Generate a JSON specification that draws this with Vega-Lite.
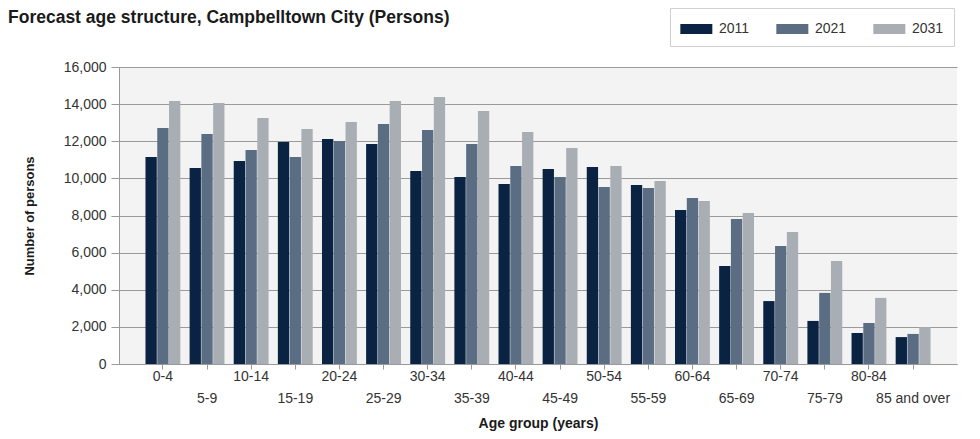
{
  "$schema": "https://vega.github.io/schema/vega-lite/v6.json",
  "width": 838,
  "height": 297,
  "autosize": {"type": "none"},
  "padding": {"left": 119, "top": 67, "right": 23, "bottom": 75},
  "background": "white",
  "title": {
    "text": "Forecast age structure, Campbelltown City (Persons)",
    "anchor": "start",
    "frame": "group",
    "dx": -111,
    "offset": 0,
    "dy": 19,
    "font": "Liberation Sans",
    "fontSize": 17.5,
    "fontWeight": "bold",
    "color": "#1a1a1a"
  },
  "config": {
    "view": {"fill": "#f3f3f3", "stroke": null},
    "font": "Liberation Sans"
  },
  "data": {
    "values": [
      {"age": "0-4", "year": "2011", "persons": 11150},
      {"age": "0-4", "year": "2021", "persons": 12710},
      {"age": "0-4", "year": "2031", "persons": 14170},
      {"age": "5-9", "year": "2011", "persons": 10560},
      {"age": "5-9", "year": "2021", "persons": 12390},
      {"age": "5-9", "year": "2031", "persons": 14060},
      {"age": "10-14", "year": "2011", "persons": 10940},
      {"age": "10-14", "year": "2021", "persons": 11530},
      {"age": "10-14", "year": "2031", "persons": 13250},
      {"age": "15-19", "year": "2011", "persons": 11960},
      {"age": "15-19", "year": "2021", "persons": 11150},
      {"age": "15-19", "year": "2031", "persons": 12660},
      {"age": "20-24", "year": "2011", "persons": 12120},
      {"age": "20-24", "year": "2021", "persons": 12010},
      {"age": "20-24", "year": "2031", "persons": 13040},
      {"age": "25-29", "year": "2011", "persons": 11850},
      {"age": "25-29", "year": "2021", "persons": 12930},
      {"age": "25-29", "year": "2031", "persons": 14170},
      {"age": "30-34", "year": "2011", "persons": 10400},
      {"age": "30-34", "year": "2021", "persons": 12610},
      {"age": "30-34", "year": "2031", "persons": 14380},
      {"age": "35-39", "year": "2011", "persons": 10070},
      {"age": "35-39", "year": "2021", "persons": 11850},
      {"age": "35-39", "year": "2031", "persons": 13630},
      {"age": "40-44", "year": "2011", "persons": 9700},
      {"age": "40-44", "year": "2021", "persons": 10670},
      {"age": "40-44", "year": "2031", "persons": 12500},
      {"age": "45-49", "year": "2011", "persons": 10500},
      {"age": "45-49", "year": "2021", "persons": 10070},
      {"age": "45-49", "year": "2031", "persons": 11640},
      {"age": "50-54", "year": "2011", "persons": 10610},
      {"age": "50-54", "year": "2021", "persons": 9540},
      {"age": "50-54", "year": "2031", "persons": 10670},
      {"age": "55-59", "year": "2011", "persons": 9640},
      {"age": "55-59", "year": "2021", "persons": 9480},
      {"age": "55-59", "year": "2031", "persons": 9860},
      {"age": "60-64", "year": "2011", "persons": 8300},
      {"age": "60-64", "year": "2021", "persons": 8940},
      {"age": "60-64", "year": "2031", "persons": 8780},
      {"age": "65-69", "year": "2011", "persons": 5280},
      {"age": "65-69", "year": "2021", "persons": 7810},
      {"age": "65-69", "year": "2031", "persons": 8140},
      {"age": "70-74", "year": "2011", "persons": 3390},
      {"age": "70-74", "year": "2021", "persons": 6360},
      {"age": "70-74", "year": "2031", "persons": 7110},
      {"age": "75-79", "year": "2011", "persons": 2320},
      {"age": "75-79", "year": "2021", "persons": 3830},
      {"age": "75-79", "year": "2031", "persons": 5550},
      {"age": "80-84", "year": "2011", "persons": 1670},
      {"age": "80-84", "year": "2021", "persons": 2210},
      {"age": "80-84", "year": "2031", "persons": 3560},
      {"age": "85 and over", "year": "2011", "persons": 1450},
      {"age": "85 and over", "year": "2021", "persons": 1620},
      {"age": "85 and over", "year": "2031", "persons": 1990}
    ]
  },
  "mark": {"type": "bar"},
  "encoding": {
    "x": {
      "field": "age",
      "type": "nominal",
      "sort": null,
      "scale": {"paddingInner": 0.21, "paddingOuter": 0.6},
      "axis": {
        "title": "Age group (years)",
        "titleFont": "Liberation Sans",
        "titleFontSize": 14,
        "titleFontWeight": "bold",
        "titleColor": "#1a1a1a",
        "titlePadding": 11,
        "labelAngle": 0,
        "labelFont": "Liberation Sans",
        "labelFontSize": 14,
        "labelColor": "#333333",
        "labelLineHeight": 22,
        "labelBaseline": "top",
        "labelPadding": 0,
        "labelExpr": "indexof(['5-9','15-19','25-29','35-39','45-49','55-59','65-69','75-79','85 and over'], datum.value) >= 0 ? ['', datum.value] : datum.value",
        "domainColor": "#999999",
        "tickColor": "#999999",
        "tickSize": 5,
        "labelOverlap": false
      }
    },
    "xOffset": {
      "field": "year",
      "type": "nominal",
      "scale": {"paddingInner": 0.04}
    },
    "y": {
      "field": "persons",
      "type": "quantitative",
      "scale": {"domain": [0, 16000]},
      "axis": {
        "title": "Number of persons",
        "titleFont": "Liberation Sans",
        "titleFontSize": 13,
        "titleFontWeight": "bold",
        "titleColor": "#1a1a1a",
        "titlePadding": 27,
        "values": [0, 2000, 4000, 6000, 8000, 10000, 12000, 14000, 16000],
        "format": ",d",
        "labelFont": "Liberation Sans",
        "labelFontSize": 14,
        "labelColor": "#333333",
        "labelPadding": 5,
        "tickSize": 8,
        "tickColor": "#999999",
        "domainColor": "#999999",
        "gridColor": "#9a9a9a",
        "gridWidth": 1
      }
    },
    "color": {
      "field": "year",
      "type": "nominal",
      "scale": {
        "domain": ["2011", "2021", "2031"],
        "range": ["#0b2342", "#5b6d82", "#a9aeb4"]
      },
      "legend": {
        "title": null,
        "orient": "none",
        "legendX": 551,
        "legendY": -59,
        "direction": "horizontal",
        "fillColor": "white",
        "strokeColor": "#d0d0d0",
        "padding": 10,
        "symbolType": "M-1,-0.47H2V0.47H-1Z",
        "symbolSize": 455,
        "symbolStrokeWidth": 0,
        "symbolOpacity": 1,
        "labelOffset": 17,
        "labelFont": "Liberation Sans",
        "labelFontSize": 14,
        "labelColor": "#333333",
        "columnPadding": 26
      }
    }
  }
}
